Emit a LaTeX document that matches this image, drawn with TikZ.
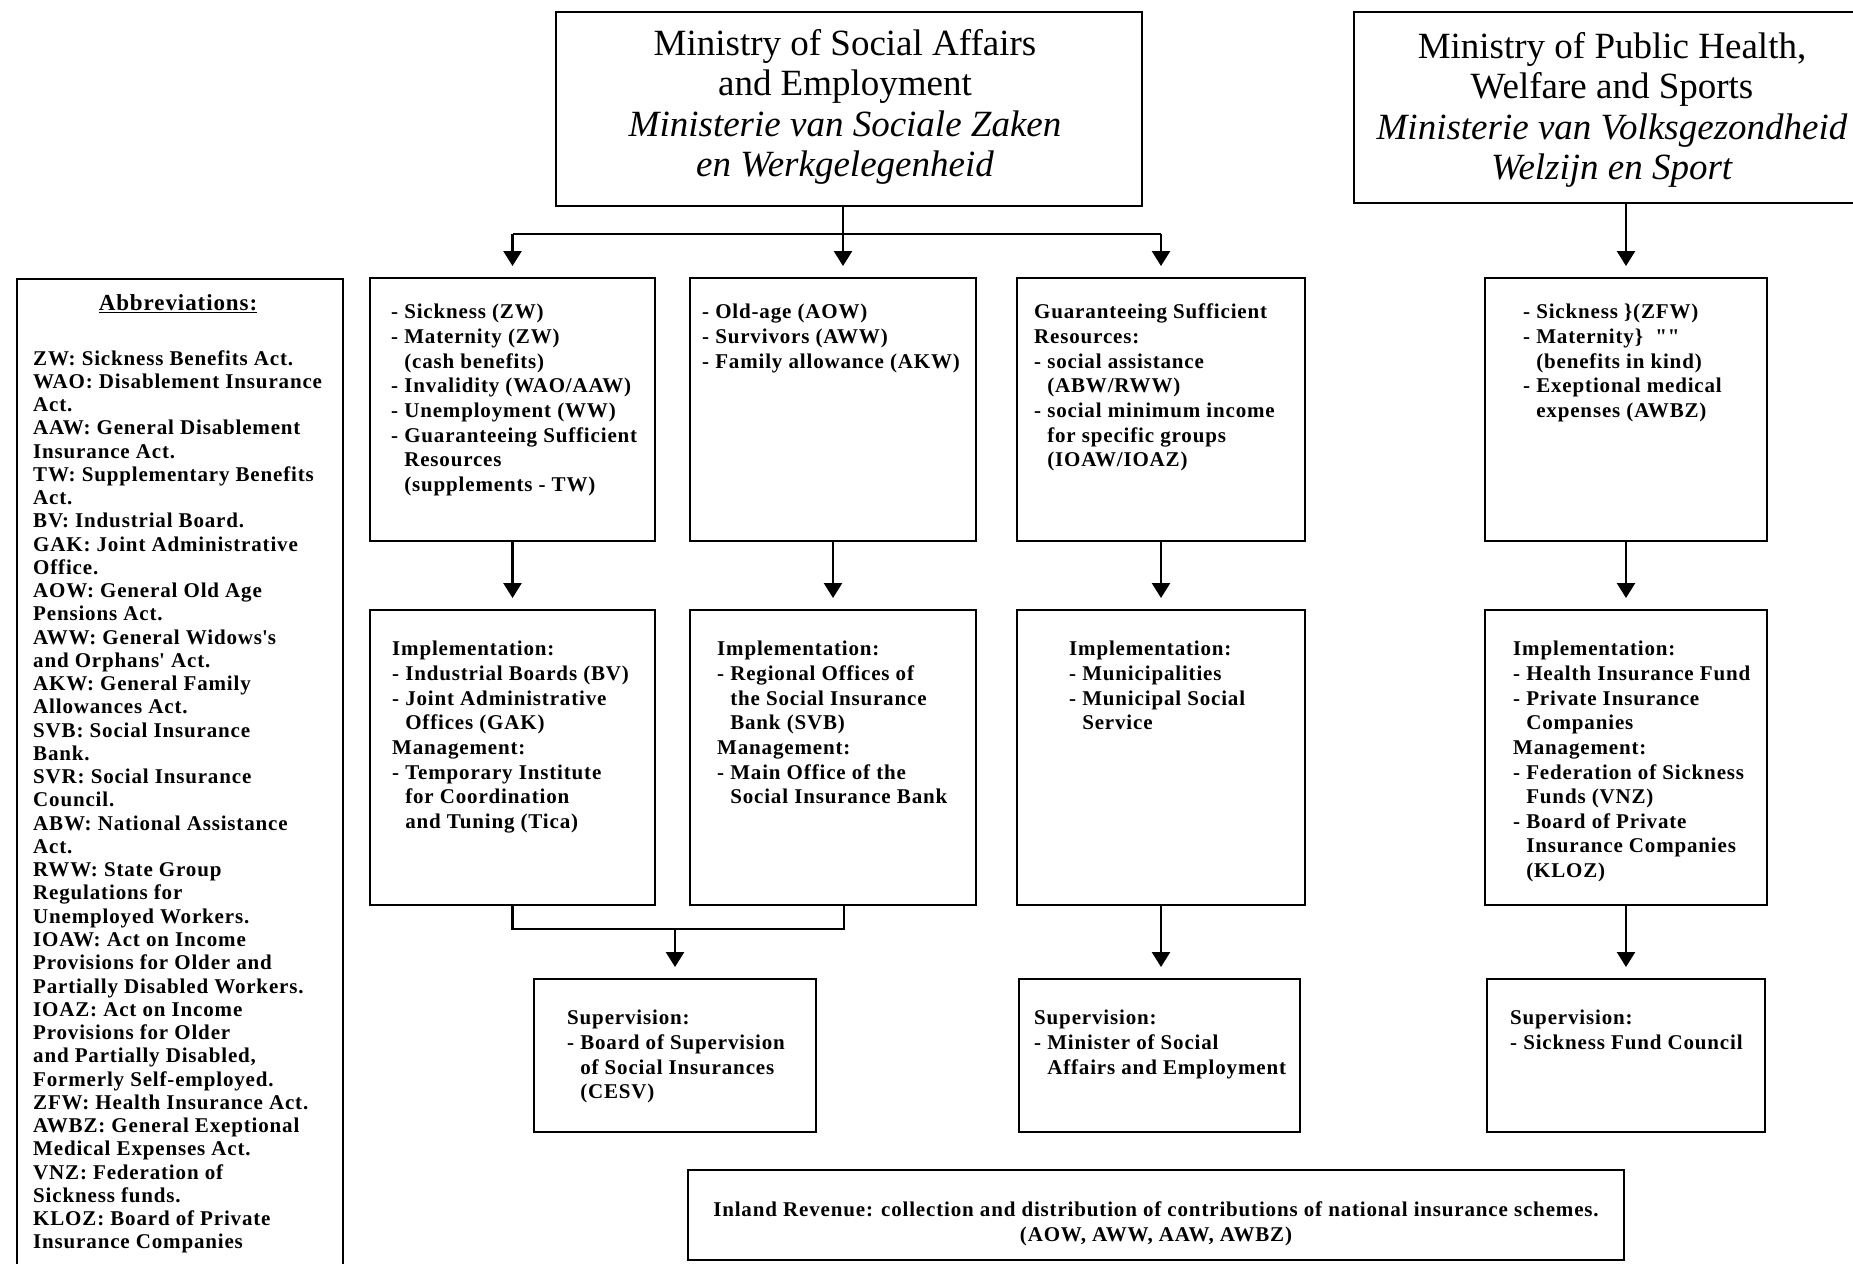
\documentclass[tikz,border=0pt]{standalone}
\usepackage{fontspec}
\setmainfont{Liberation Serif}
\newfontfamily\bodyfont{Liberation Serif}[LetterSpace=4]
\usetikzlibrary{arrows.meta}
\newcommand\ii{\hphantom{- }}
\begin{document}
\begin{tikzpicture}[x=1bp,y=-1bp,
  box/.style={draw, line width=2.5bp, inner sep=0pt, outer sep=0pt, anchor=north west},
  txt/.style={anchor=north west, inner sep=0pt, align=left, font=\bodyfont\bfseries\fontsize{21bp}{24.65bp}\selectfont},
  abb/.style={anchor=north west, inner sep=0pt, align=left, font=\bodyfont\bfseries\fontsize{21bp}{23.26bp}\selectfont},
  ctr/.style={inner sep=0pt, align=center, font=\bodyfont\bfseries\fontsize{21bp}{24.65bp}\selectfont},
  hdr/.style={inner sep=0pt, align=center, font=\bodyfont\bfseries\fontsize{23bp}{26bp}\selectfont},
  ttl/.style={inner sep=0pt, align=center, font=\fontsize{37bp}{40.3bp}\selectfont},
  ln/.style={line width=2.5bp, line join=miter},
  arr/.style={line width=2.5bp, -{Triangle[length=15bp,width=18bp]}, shorten >=12bp}]
\useasboundingbox (0,0) rectangle (1853,1263);
\fill[white] (0,0) rectangle (1853,1263);
\clip (0,0) rectangle (1853,1263);

% ministries
\node[box, minimum width=586bp, minimum height=194bp] (MS) at (556,12) {};
\node[ttl] (MSt) at (845,107) {Ministry of Social Affairs\\ and Employment\\ \textit{Ministerie van Sociale Zaken}\\ \textit{en Werkgelegenheid}};
\node[box, minimum width=510bp, minimum height=191bp] (MH) at (1354,12) {};
\node[ttl] (MHt) at (1612,110) {Ministry of Public Health,\\ Welfare and Sports\\ \textit{Ministerie van Volksgezondheid}\\ \textit{Welzijn en Sport}};

% abbreviations
\node[box, minimum width=326bp, minimum height=1010bp] (AB) at (17,279) {};
\node[hdr] (ABh) at (178,304) {\underline{Abbreviations:}};
\node[abb] (ABt) at (33,350) {ZW: Sickness Benefits Act.\\
WAO: Disablement Insurance\\ Act.\\
AAW: General Disablement\\ Insurance Act.\\
TW: Supplementary Benefits\\ Act.\\
BV: Industrial Board.\\
GAK: Joint Administrative\\ Office.\\
AOW: General Old Age\\ Pensions Act.\\
AWW: General Widows\textquotesingle s\\ and Orphans\textquotesingle{} Act.\\
AKW: General Family\\ Allowances Act.\\
SVB: Social Insurance\\ Bank.\\
SVR: Social Insurance\\ Council.\\
ABW: National Assistance\\ Act.\\
RWW: State Group\\ Regulations for\\ Unemployed Workers.\\
IOAW: Act on Income\\ Provisions for Older and\\ Partially Disabled Workers.\\
IOAZ: Act on Income\\ Provisions for Older\\ and Partially Disabled,\\ Formerly Self-employed.\\
ZFW: Health Insurance Act.\\
AWBZ: General Exeptional\\ Medical Expenses Act.\\
VNZ: Federation of\\ Sickness funds.\\
KLOZ: Board of Private\\ Insurance Companies};

% row 2
\node[box, minimum width=285bp, minimum height=263bp] (A2) at (370,278) {};
\node[box, minimum width=286bp, minimum height=263bp] (B2) at (690,278) {};
\node[box, minimum width=288bp, minimum height=263bp] (C2) at (1017,278) {};
\node[box, minimum width=282bp, minimum height=263bp] (D2) at (1485,278) {};
\node[txt] (A2t) at (391,304) {- Sickness (ZW)\\ - Maternity (ZW)\\ \ii(cash benefits)\\ - Invalidity (WAO/AAW)\\ - Unemployment (WW)\\ - Guaranteeing Sufficient\\ \ii Resources\\ \ii(supplements - TW)};
\node[txt] (B2t) at (702,304) {- Old-age (AOW)\\ - Survivors (AWW)\\ - Family allowance (AKW)};
\node[txt] (C2t) at (1034,304) {Guaranteeing Sufficient\\ Resources:\\ - social assistance\\ \ii(ABW/RWW)\\ - social minimum income\\ \ii for specific groups\\ \ii(IOAW/IOAZ)};
\node[txt] (D2t) at (1523,304) {- Sickness \}(ZFW)\\ - Maternity\}\ \ ""\\ \ii(benefits in kind)\\ - Exeptional medical\\ \ii expenses (AWBZ)};

% row 3
\node[box, minimum width=285bp, minimum height=295bp] (A3) at (370,610) {};
\node[box, minimum width=286bp, minimum height=295bp] (B3) at (690,610) {};
\node[box, minimum width=288bp, minimum height=295bp] (C3) at (1017,610) {};
\node[box, minimum width=282bp, minimum height=295bp] (D3) at (1485,610) {};
\node[txt] (A3t) at (392,641) {Implementation:\\ - Industrial Boards (BV)\\ - Joint Administrative\\ \ii Offices (GAK)\\ Management:\\ - Temporary Institute\\ \ii for Coordination\\ \ii and Tuning (Tica)};
\node[txt] (B3t) at (717,641) {Implementation:\\ - Regional Offices of\\ \ii the Social Insurance\\ \ii Bank (SVB)\\ Management:\\ - Main Office of the\\ \ii Social Insurance Bank};
\node[txt] (C3t) at (1069,641) {Implementation:\\ - Municipalities\\ - Municipal Social\\ \ii Service};
\node[txt] (D3t) at (1513,641) {Implementation:\\ - Health Insurance Fund\\ - Private Insurance\\ \ii Companies\\ Management:\\ - Federation of Sickness\\ \ii Funds (VNZ)\\ - Board of Private\\ \ii Insurance Companies\\ \ii(KLOZ)};

% row 4
\node[box, minimum width=282bp, minimum height=153bp] (E4) at (534,979) {};
\node[box, minimum width=281bp, minimum height=153bp] (F4) at (1019,979) {};
\node[box, minimum width=278bp, minimum height=153bp] (G4) at (1487,979) {};
\node[txt] (E4t) at (567,1010) {Supervision:\\ - Board of Supervision\\ \ii of Social Insurances\\ \ii(CESV)};
\node[txt] (F4t) at (1034,1010) {Supervision:\\ - Minister of Social\\ \ii Affairs and Employment};
\node[txt] (G4t) at (1510,1010) {Supervision:\\ - Sickness Fund Council};

% inland revenue
\node[box, minimum width=936bp, minimum height=90bp] (IR) at (688,1170) {};
\node[ctr] (IRt) at (1156,1224) {Inland Revenue: collection and distribution of contributions of national insurance schemes.\\ (AOW, AWW, AAW, AWBZ)};

% connectors
\coordinate (bar) at (843,234);
\draw[ln] (MS.south -| bar) -- (bar);
\draw[ln] (A2.north |- bar) -- (C2.north |- bar);
\draw[arr] (A2.north |- bar) -- (A2.north);
\draw[arr] (bar) -- (bar |- B2.north);
\draw[arr] (C2.north |- bar) -- (C2.north);
\draw[arr] (MH.south -| D2.north) -- (D2.north);

\draw[arr] (A2.south) -- (A3.north);
\draw[arr] (B2.south) -- (B3.north);
\draw[arr] (C2.south) -- (C3.north);
\draw[arr] (D2.south) -- (D3.north);

\coordinate (jr) at (844,929);
\draw[ln] (A3.south) |- (jr) -- (jr |- B3.south);
\draw[arr] (E4.north |- jr) -- (E4.north);
\draw[arr] (C3.south) -- (C3.south |- F4.north);
\draw[arr] (D3.south) -- (D3.south |- G4.north);
\end{tikzpicture}
\end{document}
